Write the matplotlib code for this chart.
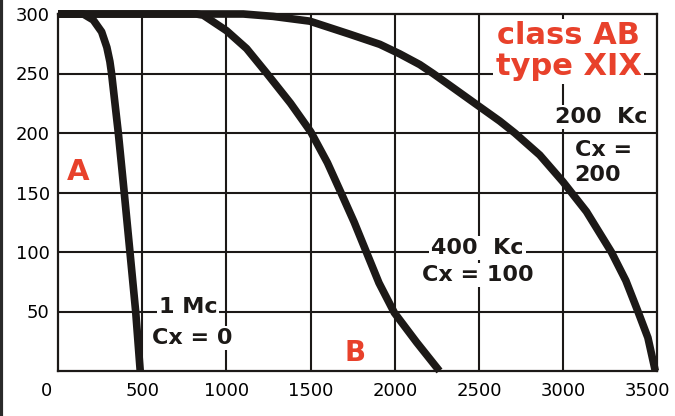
import matplotlib.pyplot as plt
import matplotlib.transforms as mtransforms
from matplotlib.lines import Line2D

# curve values (x = frequency axis, y = output)
mc1_x = [0, 150, 209, 259, 290, 308, 318, 358, 393, 427, 461, 488]
mc1_y = [300, 300, 295, 285, 272, 260, 250, 200, 150, 100, 50, 0]

kc400_x = [0, 820, 862, 1000, 1119, 1240, 1380, 1500, 1599, 1679, 1758, 1830, 1905, 1996, 2129, 2264]
kc400_y = [300, 300, 299, 286, 271, 250, 225, 201, 175, 150, 125, 100, 74, 49, 24, 0]

kc200_x = [0, 1100, 1277, 1494, 1732, 1910, 2028, 2147, 2226, 2345, 2503, 2622, 2711,
           2859, 2997, 3047, 3136, 3284, 3370, 3442, 3501, 3545]
kc200_y = [300, 300, 298, 294, 283, 274.5, 266.5, 257.5, 250, 238, 222, 210, 200,
           181.5, 159, 150, 134, 100, 76, 50, 28, 0]

x_ticks = [0, 500, 1000, 1500, 2000, 2500, 3000, 3500]
y_ticks = [50, 100, 150, 200, 250, 300]

ink = "#1c1917"
red = "#e8412b"

fig = plt.figure(figsize=(6.75, 4.16), dpi=100)
ax = fig.add_axes([58 / 675, 1 - 371 / 416, (657 - 58) / 675, (371 - 14) / 416])

ax.set_xlim(0, 3555)
ax.set_ylim(0, 300)

for v in [500, 1000, 1500, 2000, 2500, 3000]:
    ax.axvline(v, color=ink, lw=1.5, zorder=1)
for v in [50, 100, 150, 200, 250]:
    ax.axhline(v, color=ink, lw=1.5, zorder=1)

for s in ax.spines.values():
    s.set_linewidth(1.6)
    s.set_color(ink)

for xs, ys in [(mc1_x, mc1_y), (kc400_x, kc400_y), (kc200_x, kc200_y)]:
    ax.plot(xs, ys, color=ink, lw=5.5, solid_capstyle="butt", solid_joinstyle="round",
            zorder=3, clip_on=False)

tick_font = ["Liberation Sans Narrow", "DejaVu Sans Condensed", "DejaVu Sans"]
ax.set_xticks(x_ticks)
ax.set_xticklabels([str(v) for v in x_ticks], family=tick_font, fontsize=13)
ax.set_yticks(y_ticks)
ax.set_yticklabels([str(v) for v in y_ticks], family=tick_font, fontsize=13)
ax.tick_params(length=0)
ax.tick_params(axis="x", pad=8)
ax.tick_params(axis="y", pad=6)
xlabels = ax.get_xticklabels()
xlabels[0].set_transform(xlabels[0].get_transform()
                         + mtransforms.ScaledTranslation(-0.11, 0, fig.dpi_scale_trans))

box = dict(facecolor="white", edgecolor="none", pad=1.5)
lab = dict(family="DejaVu Sans", fontweight="bold", ha="center", va="center", zorder=4)

ax.text(3028, 282, "class AB", color=red, fontsize=22, bbox=box, **lab)
ax.text(3030, 255.5, "type XIX", color=red, fontsize=22, bbox=box, **lab)
ax.text(3226, 213.5, "200  Kc", color=ink, fontsize=16, bbox=box, **lab)
ax.text(3066, 185.7, "Cx =", color=ink, fontsize=16, family="DejaVu Sans",
        fontweight="bold", ha="left", va="center", zorder=4)
ax.text(3066, 164.7, "200", color=ink, fontsize=16, family="DejaVu Sans",
        fontweight="bold", ha="left", va="center", zorder=4)
ax.text(2491, 103.4, "400  Kc", color=ink, fontsize=16, bbox=box, **lab)
ax.text(2491, 80.7, "Cx = 100", color=ink, fontsize=16, bbox=box, **lab)
ax.text(771, 53.8, "1 Mc", color=ink, fontsize=16, bbox=box, **lab)
ax.text(795, 27.7, "Cx = 0", color=ink, fontsize=16, bbox=box, **lab)
ax.text(119, 167, "A", color=red, fontsize=21, **lab)
ax.text(1762, 15, "B", color=red, fontsize=20, **lab)

# dark scan edge on the left side of the page
fig.add_artist(Line2D([0.002, 0.002], [0, 1], color="#2a2a2a", lw=3, transform=fig.transFigure))

fig.savefig("out.png", dpi=100)
